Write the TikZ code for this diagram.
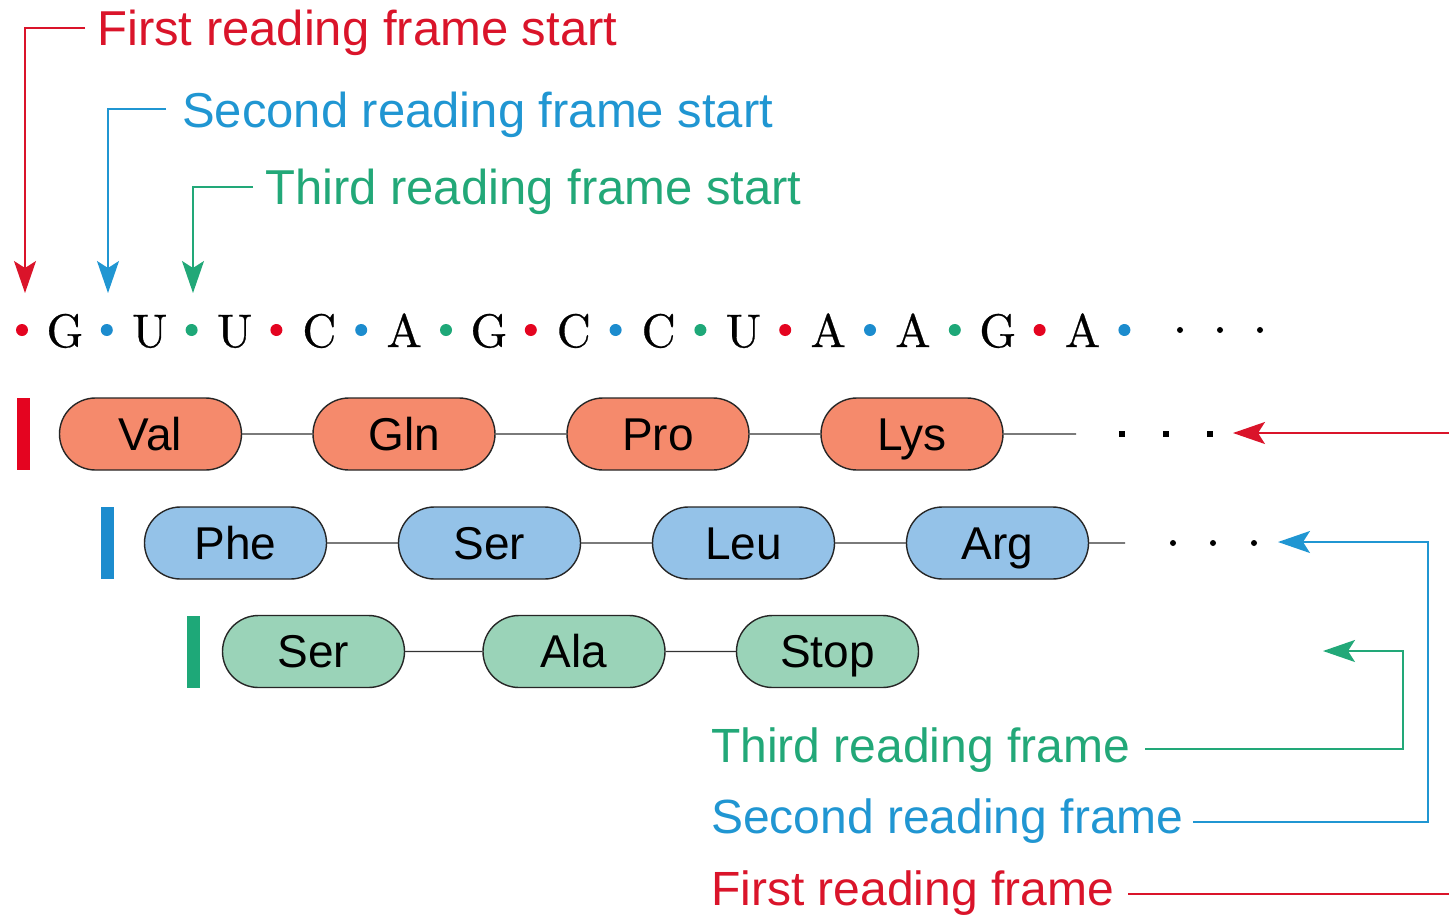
\documentclass[tikz,border=0pt]{standalone}
\usepackage{fontspec}
\setsansfont{Liberation Sans}
\newfontfamily\seqfont{lmroman10-regular.otf}[FakeBold=0.6]
\usetikzlibrary{arrows.meta,shapes.misc}

\definecolor{framered}{RGB}{218,20,42}
\definecolor{frameblue}{RGB}{32,150,210}
\definecolor{framegreen}{RGB}{34,168,120}
\definecolor{barred}{RGB}{228,4,32}
\definecolor{barblue}{RGB}{28,140,206}
\definecolor{bargreen}{RGB}{30,168,120}
\definecolor{pillred}{RGB}{245,138,108}
\definecolor{pillblue}{RGB}{148,194,232}
\definecolor{pillgreen}{RGB}{154,211,184}

\tikzset{
  label/.style={font=\sffamily\fontsize{48}{56}\selectfont, inner sep=0pt, anchor=base west},
  toplabel/.style={label, font=\sffamily\fontsize{49}{56}\selectfont},
  pill/.style={rounded rectangle, draw=black!85, line width=1.4pt,
    minimum width=182pt, minimum height=72pt, inner sep=0pt,
    text height=32pt, text depth=0pt,
    font=\sffamily\fontsize{46}{54}\selectfont},
  base/.style={font=\seqfont\fontsize{47}{56}\selectfont, inner sep=0pt, anchor=base},
  bond/.style={draw=black!80, line width=1.2pt},
  lead/.style={line width=1.5pt, -{Stealth[length=32pt, width=22pt, inset=7pt]}},
  bar/.style={minimum width=13pt, minimum height=72pt, inner sep=0pt},
  phos/.style={circle, inner sep=0pt, minimum size=12pt},
  etc/.style={circle, fill=black, inner sep=0pt, minimum size=6pt},
  etcsq/.style={rectangle, fill=black, inner sep=0pt, minimum size=6pt},
}

\begin{document}
\begin{tikzpicture}[x=1pt, y=-1pt]
\clip (0,0) rectangle (1449,914);
\fill[white] (0,0) rectangle (1449,914);

% frame start labels
\node[toplabel, text=framered]   (s1) at (97,45)  {First reading frame start};
\node[toplabel, text=frameblue]  (s2) at (182,127) {Second reading frame start};
\node[toplabel, text=framegreen] (s3) at (265,204) {Third reading frame start};

\coordinate (k1) at (85,28);
\coordinate (k2) at (166,109);
\coordinate (k3) at (253,187);
\coordinate (a1) at (25,293);
\coordinate (a2) at (108,293);
\coordinate (a3) at (193,293);
\draw[lead, framered]   (k1) -| (a1);
\draw[lead, frameblue]  (k2) -| (a2);
\draw[lead, framegreen] (k3) -| (a3);

% the base sequence with coloured phosphate dots
\foreach \i/\b in {0/G,1/U,2/U,3/C,4/A,5/G,6/C,7/C,8/U,9/A,10/A,11/G,12/A}{
  \node[base] (b\i) at (65+84.8*\i,347) {\b};
}
\foreach \i in {0,...,13}{
  \pgfmathtruncatemacro{\k}{mod(\i,3)}
  \ifcase\k
    \node[phos, fill=barred]   (p\i) at (22+84.8*\i,330) {};
  \or
    \node[phos, fill=barblue]  (p\i) at (22+84.8*\i,330) {};
  \or
    \node[phos, fill=bargreen] (p\i) at (22+84.8*\i,330) {};
  \fi
}
\node[etc] (e1) at (1180,330) {};
\node[etc] (e2) at (1220,330) {};
\node[etc] (e3) at (1260,330) {};

% first reading frame
\node[bar, fill=barred] (r0) at (23.5,434) {};
\node[pill, fill=pillred] (val) at (150.5,434) {Val};
\node[pill, fill=pillred] (gln) at (404,434) {Gln};
\node[pill, fill=pillred] (pro) at (658,434) {Pro};
\node[pill, fill=pillred] (lys) at (912,434) {Lys};
\coordinate (rend) at (1076,434);
\draw[bond] (val) -- (gln);
\draw[bond] (gln) -- (pro);
\draw[bond] (pro) -- (lys);
\draw[bond] (lys) -- (rend);
\node[etcsq] (r1) at (1122,434) {};
\node[etcsq] (r2) at (1166,434) {};
\node[etcsq] (r3) at (1210,434) {};

% second reading frame
\node[bar, fill=barblue] (u0) at (107.5,543) {};
\node[pill, fill=pillblue] (phe) at (235.5,543) {Phe};
\node[pill, fill=pillblue] (ser) at (489.5,543) {Ser};
\node[pill, fill=pillblue] (leu) at (743.5,543) {Leu};
\node[pill, fill=pillblue] (arg) at (997.5,543) {Arg};
\coordinate (uend) at (1125,543);
\draw[bond] (phe) -- (ser);
\draw[bond] (ser) -- (leu);
\draw[bond] (leu) -- (arg);
\draw[bond] (arg) -- (uend);
\node[etc] (u1) at (1173,543) {};
\node[etc] (u2) at (1213,543) {};
\node[etc] (u3) at (1254,543) {};

% third reading frame
\node[bar, fill=bargreen] (g0) at (193,651.5) {};
\node[pill, fill=pillgreen] (ser3) at (313.5,651.5) {Ser};
\node[pill, fill=pillgreen] (ala)  at (574,651.5) {Ala};
\node[pill, fill=pillgreen] (stop) at (827.5,651.5) {Stop};
\draw[bond] (ser3) -- (ala);
\draw[bond] (ala) -- (stop);

% frame labels and their leaders
\node[label, text=framegreen] (f3) at (711,762) {Third reading frame};
\node[label, text=frameblue]  (f2) at (711,833) {Second reading frame};
\node[label, text=framered]   (f1) at (711,905) {First reading frame};

\coordinate (h3) at (1145,749);
\coordinate (h2) at (1193,822);
\coordinate (h1) at (1128,894);
\coordinate (c3) at (1403,700);
\coordinate (c2) at (1428,700);
\coordinate (c1) at (1470,700);
\coordinate (t3) at (1323,651);
\coordinate (t2) at (1278,542);
\coordinate (t1) at (1233,433);
\draw[lead, framegreen] (h3) -| (c3) |- (t3);
\draw[lead, frameblue]  (h2) -| (c2) |- (t2);
\draw[lead, framered]   (h1) -| (c1) |- (t1);
\end{tikzpicture}
\end{document}
